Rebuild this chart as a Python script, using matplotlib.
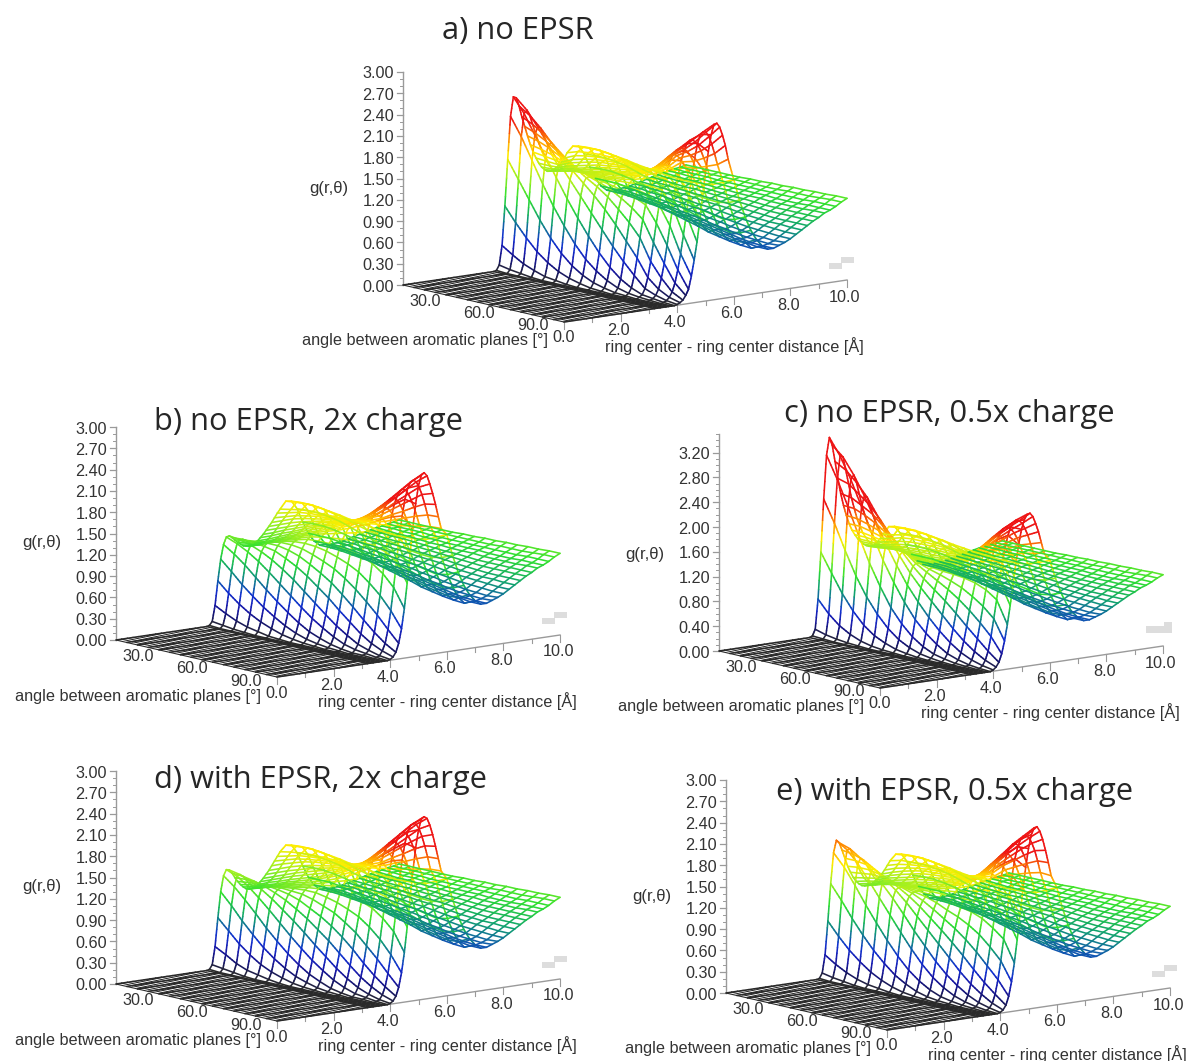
"""Five g(r, theta) wireframe surfaces, one per simulation setup."""
import matplotlib
matplotlib.use("Agg")
import matplotlib.pyplot as plt
import numpy as np
from matplotlib.collections import LineCollection
from matplotlib.colors import LinearSegmentedColormap
from matplotlib.patches import Rectangle

TITLES = ["a) no EPSR", "b) no EPSR, 2x charge", "c) no EPSR, 0.5x charge",
          "d) with EPSR, 2x charge", "e) with EPSR, 0.5x charge"]
Z_LABEL = "g(r,θ)"
THETA_LABEL = "angle between aromatic planes [°]"
R_LABEL = "ring center - ring center distance [Å]"

THETA = [0, 6, 12, 18, 24, 30, 36, 42, 48, 54, 60, 66, 72, 78, 84, 90]
R_NEAR = [3.2, 3.3, 3.4, 3.5, 3.6, 3.7, 3.8, 3.9, 4.0, 4.1, 4.2, 4.3, 4.4, 4.5,
          4.6, 4.7, 4.8, 4.9, 5.0, 5.1, 5.2, 5.3, 5.4, 5.5, 5.6, 5.7, 5.8]
R_MID = [6.0, 6.2, 6.4, 6.6, 6.8, 7.0]
R_FAR = [7.2, 7.4, 7.6, 7.8, 8.0, 8.2, 8.4, 8.6, 8.8, 9.0, 9.2, 9.4, 9.6, 9.8, 10.0]
FLOOR_R = [0.0, 0.2, 0.4, 0.6, 0.8, 1.0, 1.2, 1.4, 1.6, 1.8, 2.0, 2.2, 2.4, 2.6,
           2.8, 3.0]
Z_TICKS = [0.0, 0.3, 0.6, 0.9, 1.2, 1.5, 1.8, 2.1, 2.4, 2.7, 3.0]
Z_TICKS_C = [0.0, 0.4, 0.8, 1.2, 1.6, 2.0, 2.4, 2.8, 3.2]
THETA_TICKS = [30, 60, 90]
R_TICKS = [2, 4, 6, 8, 10]

# g values x 100, one row per theta, one column per r
# the sheet beyond r = 6 looks the same in all five panels
G_MID = [
    [160,159,147,127,110,98], [162,160,148,128,110,98], [163,160,148,128,110,97],
    [162,158,146,126,108,95], [160,155,143,123,105,92], [158,152,138,119,101,89],
    [155,147,133,114,97,85], [153,143,128,109,92,81], [151,139,122,103,87,77],
    [149,135,117,98,82,73], [148,131,111,93,77,68], [148,128,106,88,73,65],
    [149,126,103,84,70,62], [151,125,100,81,67,60], [158,128,103,83,68,59],
    [165,135,110,90,76,66],
]
G_FAR = [
    [91,91,90,91,92,94,96,98,100,102,104,105,107,108,110],
    [91,90,90,91,92,93,95,97,99,101,103,105,106,108,110],
    [90,89,88,89,90,92,94,96,98,100,102,104,106,108,110],
    [88,87,86,87,89,91,93,95,97,100,102,104,106,108,110],
    [86,85,84,85,87,89,92,94,97,99,101,103,105,108,110],
    [84,83,82,83,85,88,91,93,96,98,100,103,105,108,110],
    [81,80,79,81,83,86,89,92,95,97,100,102,105,108,111],
    [79,78,77,79,82,85,88,91,94,96,99,102,105,108,111],
    [76,75,74,76,79,83,87,90,93,96,99,102,105,108,112],
    [73,72,71,74,77,81,85,88,92,95,99,102,105,108,112],
    [70,69,69,71,75,79,83,87,91,94,98,101,105,109,113],
    [67,66,66,69,73,78,82,86,90,94,98,101,105,109,113],
    [64,63,64,67,72,77,81,85,90,94,98,101,105,109,114],
    [62,61,63,66,71,76,81,85,90,94,98,102,106,110,114],
    [60,60,62,65,70,75,80,85,90,94,99,102,106,111,115],
    [60,60,63,66,70,75,80,85,90,94,99,102,106,111,115],
]
G_A = [
    [0,1,8,35,90,155,215,242,240,228,212,198,184,171,160,151,143,137,133,130,130,131,133,136,140,145,152],
    [0,0,5,25,70,130,190,222,226,218,205,192,180,168,158,150,143,138,135,134,134,136,139,143,147,152,157],
    [0,0,3,16,52,105,160,195,206,204,195,184,174,164,156,149,144,140,138,137,138,140,143,147,151,155,159],
    [0,0,1,10,36,80,130,168,184,187,182,174,166,158,152,147,144,142,141,141,142,144,147,151,154,157,160],
    [0,0,0,5,24,58,102,142,162,170,169,164,158,153,149,146,144,143,143,144,146,148,151,154,156,158,160],
    [0,0,0,3,15,40,78,116,142,154,157,155,151,149,147,146,145,145,146,147,149,151,153,155,157,158,159],
    [0,0,0,1,9,26,56,92,122,140,147,148,147,146,146,146,147,148,149,150,151,153,155,156,157,158,157],
    [0,0,0,0,5,16,38,70,102,126,138,143,144,145,146,147,148,150,151,152,153,155,156,157,157,157,156],
    [0,0,0,0,2,9,25,50,82,110,127,137,141,144,147,149,151,153,154,155,156,157,158,158,158,157,155],
    [0,0,0,0,1,5,15,33,62,92,113,128,137,143,148,152,155,157,159,160,161,162,162,162,161,159,156],
    [0,0,0,0,0,2,8,20,44,72,98,118,132,142,150,157,161,165,168,170,171,172,172,171,169,166,161],
    [0,0,0,0,0,1,4,11,28,52,80,105,125,138,150,160,168,175,181,185,188,190,190,188,184,178,170],
    [0,0,0,0,0,0,2,5,13,28,50,76,103,128,148,165,178,189,196,201,203,203,201,197,191,182,172],
    [0,0,0,0,0,0,1,3,7,15,30,50,75,102,128,152,173,191,205,214,218,218,215,209,201,190,178],
    [0,0,0,0,0,0,0,1,3,7,14,26,44,66,92,120,148,174,198,218,230,233,232,225,214,200,184],
    [0,0,0,0,0,0,0,0,1,3,6,12,20,38,60,85,115,150,180,210,233,247,248,242,230,215,195],
]
G_B = [
    [0,1,6,28,62,92,112,122,123,120,116,112,109,106,105,104,105,107,110,114,118,123,128,133,139,145,150],
    [0,0,4,20,48,78,102,116,121,121,119,116,113,111,110,110,111,113,116,120,124,129,134,139,144,149,153],
    [0,0,2,13,36,63,90,108,117,120,121,120,118,117,116,117,118,120,123,127,131,135,140,145,149,153,156],
    [0,0,1,8,26,50,76,98,111,118,122,123,123,122,122,123,125,127,130,133,137,141,145,149,152,155,157],
    [0,0,0,5,18,38,62,86,103,115,122,126,127,128,129,130,132,134,137,140,143,146,149,152,155,156,157],
    [0,0,0,2,12,28,49,73,93,108,119,126,130,132,134,136,138,140,143,146,148,151,153,155,156,157,157],
    [0,0,0,1,7,19,37,60,82,100,114,124,131,136,139,142,144,146,149,151,153,155,156,157,158,158,157],
    [0,0,0,0,4,12,26,47,69,90,106,119,130,137,142,146,149,152,154,156,158,159,160,160,160,159,157],
    [0,0,0,0,2,7,17,35,56,78,97,113,127,137,144,150,154,157,160,162,163,164,165,164,163,161,158],
    [0,0,0,0,1,4,11,25,43,66,87,106,122,136,146,154,160,164,167,169,171,172,171,170,167,164,160],
    [0,0,0,0,0,2,6,16,31,52,74,96,116,133,148,158,167,172,177,180,182,182,180,177,173,168,162],
    [0,0,0,0,0,1,3,9,21,39,60,84,108,130,148,163,174,183,190,194,196,195,192,188,182,174,165],
    [0,0,0,0,0,0,1,5,12,26,45,70,96,123,147,167,183,195,204,209,211,210,206,199,190,180,168],
    [0,0,0,0,0,0,1,3,7,16,31,55,82,112,142,168,190,207,218,225,227,225,219,210,199,186,171],
    [0,0,0,0,0,0,0,1,3,9,19,38,64,96,132,166,195,218,233,241,243,240,232,221,207,191,174],
    [0,0,0,0,0,0,0,0,1,4,10,22,42,70,105,145,182,215,240,254,257,252,240,226,210,192,175],
]
G_C = [
    [0,2,12,60,135,220,290,318,305,278,250,225,205,188,174,163,155,148,143,138,135,133,133,135,138,143,149],
    [0,1,7,40,105,185,255,292,290,268,245,222,204,187,174,163,155,148,143,139,136,135,136,138,142,147,152],
    [0,0,4,25,76,145,215,258,265,252,232,213,197,182,170,160,153,147,143,140,138,138,140,143,147,152,156],
    [0,0,2,15,52,108,172,218,235,232,218,203,188,176,165,157,151,146,143,141,140,141,143,146,150,154,157],
    [0,0,1,8,33,78,132,178,200,205,198,187,176,166,158,152,147,144,142,141,141,142,144,147,151,154,156],
    [0,0,0,4,20,54,98,140,166,176,176,170,163,156,150,146,143,141,140,140,141,143,145,148,151,153,155],
    [0,0,0,2,12,35,68,108,135,150,155,154,150,146,143,141,140,139,139,140,141,143,146,148,150,152,153],
    [0,0,0,1,6,21,46,80,107,126,136,140,140,139,138,138,138,138,139,140,142,144,146,148,150,150,151],
    [0,0,0,0,3,12,29,56,84,106,120,130,134,136,137,138,139,140,141,143,145,147,149,150,151,151,150],
    [0,0,0,0,1,6,17,38,63,88,106,120,129,134,138,140,142,144,146,149,151,153,154,154,154,153,151],
    [0,0,0,0,0,3,9,24,45,70,92,110,123,133,140,145,149,153,157,160,162,164,164,163,161,158,154],
    [0,0,0,0,0,1,5,13,30,52,76,98,116,131,143,152,160,167,173,177,180,181,180,178,174,168,160],
    [0,0,0,0,0,0,2,7,18,36,59,84,106,127,144,159,172,183,191,196,198,198,196,191,184,175,164],
    [0,0,0,0,0,0,1,3,10,23,43,68,94,120,144,166,184,198,208,214,216,215,211,205,196,184,170],
    [0,0,0,0,0,0,0,1,5,13,27,50,78,108,138,166,190,209,222,229,232,230,225,216,205,190,174],
    [0,0,0,0,0,0,0,0,2,6,13,26,46,72,102,135,168,198,222,237,245,246,240,228,214,196,178],
]
G_D = [
    [0,1,7,32,72,108,130,138,137,132,125,119,114,110,107,106,106,108,110,114,118,123,128,134,140,146,152],
    [0,0,5,24,57,92,118,132,134,131,126,121,117,114,112,111,112,114,117,120,124,129,134,140,145,150,155],
    [0,0,3,15,42,74,103,122,128,128,125,122,119,117,116,116,117,119,122,126,130,135,140,145,150,154,157],
    [0,0,1,9,30,58,87,109,120,124,124,123,122,121,121,122,123,125,128,132,136,140,145,150,153,156,158],
    [0,0,0,6,20,43,70,95,110,118,122,124,124,124,125,126,128,130,133,137,141,145,149,153,155,157,158],
    [0,0,0,3,13,31,55,80,98,111,119,123,126,127,128,130,132,135,138,142,146,149,152,155,157,158,158],
    [0,0,0,1,8,21,41,65,86,102,114,122,127,130,132,134,137,140,143,147,150,153,155,157,158,158,157],
    [0,0,0,0,4,13,29,51,73,92,106,118,127,132,136,139,142,146,149,152,155,157,159,160,160,159,157],
    [0,0,0,0,2,8,19,38,59,80,98,112,124,132,139,144,148,152,156,159,161,163,164,164,163,161,158],
    [0,0,0,0,1,4,12,27,46,68,88,106,120,132,141,149,155,160,164,167,169,170,171,170,167,164,160],
    [0,0,0,0,0,2,6,17,33,54,76,96,114,130,144,155,164,170,175,179,181,181,180,177,173,168,163],
    [0,0,0,0,0,1,3,10,22,40,62,85,107,128,146,161,173,182,189,194,196,196,193,189,183,175,166],
    [0,0,0,0,0,0,1,5,13,27,46,70,96,122,145,166,182,195,204,210,212,211,207,201,192,181,169],
    [0,0,0,0,0,0,1,3,7,17,32,55,82,111,141,168,190,207,219,226,228,227,221,213,202,188,173],
    [0,0,0,0,0,0,0,1,3,9,20,38,64,96,131,166,195,218,233,242,244,242,235,224,210,194,176],
    [0,0,0,0,0,0,0,0,1,4,10,22,42,70,105,145,182,215,240,254,257,254,244,230,213,195,177],
]
G_E = [
    [0,1,8,33,80,132,175,192,188,177,165,153,144,136,130,126,123,122,122,123,125,128,131,135,140,146,152],
    [0,0,5,23,62,112,158,182,183,175,165,155,146,139,134,130,128,127,127,129,131,134,137,141,146,151,156],
    [0,0,3,15,46,90,136,166,173,170,163,155,148,142,137,134,132,131,131,133,135,138,142,146,150,154,157],
    [0,0,1,9,33,70,112,146,160,161,157,152,147,142,139,136,135,134,135,136,139,142,146,150,153,156,158],
    [0,0,0,5,22,52,90,125,144,150,150,147,144,141,139,137,137,137,138,140,143,146,150,153,155,157,158],
    [0,0,0,3,14,37,69,104,127,138,141,141,140,139,139,139,139,140,141,143,146,149,152,154,156,157,158],
    [0,0,0,1,8,24,50,83,108,124,132,136,137,138,139,140,141,142,144,146,148,151,153,155,156,157,157],
    [0,0,0,0,4,15,34,63,88,108,121,129,134,137,140,142,143,145,147,149,151,153,155,156,157,157,156],
    [0,0,0,0,2,8,22,45,70,92,108,120,129,135,140,144,147,149,151,153,155,157,158,159,159,158,156],
    [0,0,0,0,1,4,13,30,52,76,95,110,122,132,139,146,151,155,157,160,162,163,164,164,163,161,157],
    [0,0,0,0,0,2,7,19,37,60,81,100,116,129,140,150,157,163,167,170,172,173,173,172,170,166,161],
    [0,0,0,0,0,1,4,11,25,44,66,88,108,126,141,154,165,174,181,186,189,190,190,188,184,178,170],
    [0,0,0,0,0,0,2,6,15,30,50,74,98,120,141,159,174,187,197,203,206,207,206,202,195,186,175],
    [0,0,0,0,0,0,1,3,8,19,35,58,84,110,137,161,182,199,212,220,224,224,221,215,206,194,180],
    [0,0,0,0,0,0,0,1,4,10,22,42,68,98,129,159,186,209,225,235,239,239,235,227,216,201,184],
    [0,0,0,0,0,0,0,0,1,4,10,22,42,68,100,135,168,200,226,245,254,255,248,236,220,202,183],
]
TABLES = [G_A, G_B, G_C, G_D, G_E]

# panel origin shift, title centre, z scale (px per unit), z ticks, z axis top
OFFSETS = [(0, 0), (-287, 355), (316, 366), (-287, 699), (323, 708)]
TITLE_POS = [(518, 31), (308, 422), (949, 414), (321, 780), (955, 792)]
Z_SCALE = [71, 71, 62, 71, 71]
Z_TICK_SETS = [Z_TICKS, Z_TICKS, Z_TICKS_C, Z_TICKS, Z_TICKS]
Z_TOP = [3.0, 3.0, 3.5, 3.0, 3.0]

STOPS = [(0.0, "#2a2a2a"), (0.15, "#14146e"), (0.3, "#1818a8"), (0.5, "#1030d0"),
         (0.8, "#10a070"), (1.05, "#30e030"), (1.35, "#a0f020"), (1.6, "#ffee00"),
         (1.85, "#ff9000"), (2.1, "#ee1515"), (2.3, "#ee1515")]
CMAP = LinearSegmentedColormap.from_list(
    "rainbow_g", [(v / 2.3, c) for v, c in STOPS])

plt.rcParams["font.family"] = ["Liberation Sans", "DejaVu Sans"]
TEXT = "#333333"
AXIS = "#9a9a9a"
TICK_FS = 11.7


def project(r, theta, g, off, k):
    """Screen position of a point of the box, panel a origin at (403, 285)."""
    x = 403 + off[0] + 28.3 * np.asarray(r) + 161 / 90 * np.asarray(theta)
    y = (285 + off[1] - 4.2 * np.asarray(r) + 37 / 90 * np.asarray(theta)
         - k * np.asarray(g))
    return x, y


def add_mesh(ax, rs, thetas, gs, off, k, lw=1.25):
    """Polyline through the points, split up so the colour follows the height."""
    x, y = project(rs, thetas, gs, off, k)
    segs, vals = [], []
    for i in range(len(x) - 1):
        steps = 5 if abs(gs[i + 1] - gs[i]) > 0.08 else 1
        t = np.linspace(0, 1, steps + 1)
        px = x[i] + t * (x[i + 1] - x[i])
        py = y[i] + t * (y[i + 1] - y[i])
        pg = gs[i] + t * (gs[i + 1] - gs[i])
        for j in range(steps):
            segs.append([(px[j], py[j]), (px[j + 1], py[j + 1])])
            vals.append((pg[j] + pg[j + 1]) / 2)
    lc = LineCollection(segs, cmap=CMAP, linewidths=lw, capstyle="round")
    lc.set_array(np.array(vals))
    lc.set_clim(0, 2.3)
    ax.add_collection(lc)


def draw_panel(ax, index, table, off, k, z_ticks, z_top):
    grid = np.hstack([np.array(table), np.array(G_MID), np.array(G_FAR)]) / 100
    r_grid = R_NEAR + R_MID + R_FAR
    r_all = np.array(FLOOR_R + r_grid)
    g_all = np.hstack([np.zeros((len(THETA), len(FLOOR_R))), grid])
    theta = np.array(THETA, dtype=float)

    # box lines
    x, y = project([0, 0], [0, 0], [0, z_top], off, k)
    ax.plot(x, y, color=AXIS, lw=1.0)
    x, y = project([0, 10], [90, 90], [0, 0], off, k)
    ax.plot(x, y, color=AXIS, lw=1.0)

    # z ticks and labels
    for v in np.arange(0, z_top + 0.001, 0.1):
        x, y = project(0, 0, v, off, k)
        ax.plot([x - 3, x], [y, y], color=AXIS, lw=0.7)
    for v in z_ticks:
        x, y = project(0, 0, v, off, k)
        ax.plot([x - 6, x], [y, y], color=AXIS, lw=0.9)
        ax.text(x - 9, y + 2, f"{v:.2f}", ha="right", va="center",
                fontsize=TICK_FS, color=TEXT)

    # r axis ticks and labels
    for v in range(0, 11):
        x, y = project(v, 90, 0, off, k)
        size = 7 if v % 2 == 0 else 4
        ax.plot([x, x], [y, y + size], color=AXIS, lw=0.8)
    for v in R_TICKS:
        x, y = project(v, 90, 0, off, k)
        ax.text(x - 2, y + 17, f"{v:.1f}", ha="center", va="center",
                fontsize=TICK_FS, color=TEXT)
    x, y = project(0, 90, 0, off, k)
    ax.text(x, y + 16, "0.0", ha="center", va="center", fontsize=TICK_FS, color=TEXT)

    # theta tick labels
    for v in THETA_TICKS:
        x, y = project(0, v, 0, off, k)
        ax.text(x - 31, y + 4, f"{v:.1f}", ha="center", va="center",
                fontsize=TICK_FS, color=TEXT)

    # axis titles
    ax.text(329 + off[0], 188 + off[1], Z_LABEL, ha="center", va="center",
            fontsize=12, color=TEXT)
    ax.text(425 + off[0], 341 + off[1], THETA_LABEL, ha="center", va="center",
            fontsize=TICK_FS, color=TEXT)
    ax.text(734 + off[0], 346 + off[1], R_LABEL, ha="center", va="center",
            fontsize=TICK_FS, color=TEXT)

    # little grey stair mark near the far corner
    if index == 2:
        ax.add_patch(Rectangle((1146, 626), 26, 7, color="#dddddd", lw=0))
        ax.add_patch(Rectangle((1164, 622), 8, 5, color="#dddddd", lw=0))
    else:
        ax.add_patch(Rectangle((829 + off[0], 263 + off[1]), 13, 6, color="#dddddd", lw=0))
        ax.add_patch(Rectangle((841 + off[0], 257 + off[1]), 13, 6, color="#dddddd", lw=0))

    # floor lines along theta are thin so the stripes stay visible
    for r0 in FLOOR_R:
        add_mesh(ax, np.full(len(theta), r0), theta, np.zeros(len(theta)), off, k, lw=0.8)
    for i, t0 in enumerate(theta):
        add_mesh(ax, r_all, np.full(len(r_all), t0), g_all[i], off, k, lw=1.15)
    for j, r0 in enumerate(r_grid):
        add_mesh(ax, np.full(len(theta), r0), theta, grid[:, j], off, k, lw=1.15)


def main():
    fig = plt.figure(figsize=(11.88, 10.61), dpi=100)
    ax = fig.add_axes([0, 0, 1, 1])
    ax.set_xlim(0, 1188)
    ax.set_ylim(1061, 0)
    ax.axis("off")

    for i, table in enumerate(TABLES):
        draw_panel(ax, i, table, OFFSETS[i], Z_SCALE[i], Z_TICK_SETS[i], Z_TOP[i])
        ax.text(TITLE_POS[i][0], TITLE_POS[i][1], TITLES[i], ha="center",
                va="center", fontsize=22.2, color="#262626",
                family=["Open Sans", "DejaVu Sans"])

    fig.savefig("out.png", dpi=100)
    plt.close(fig)


if __name__ == "__main__":
    main()
